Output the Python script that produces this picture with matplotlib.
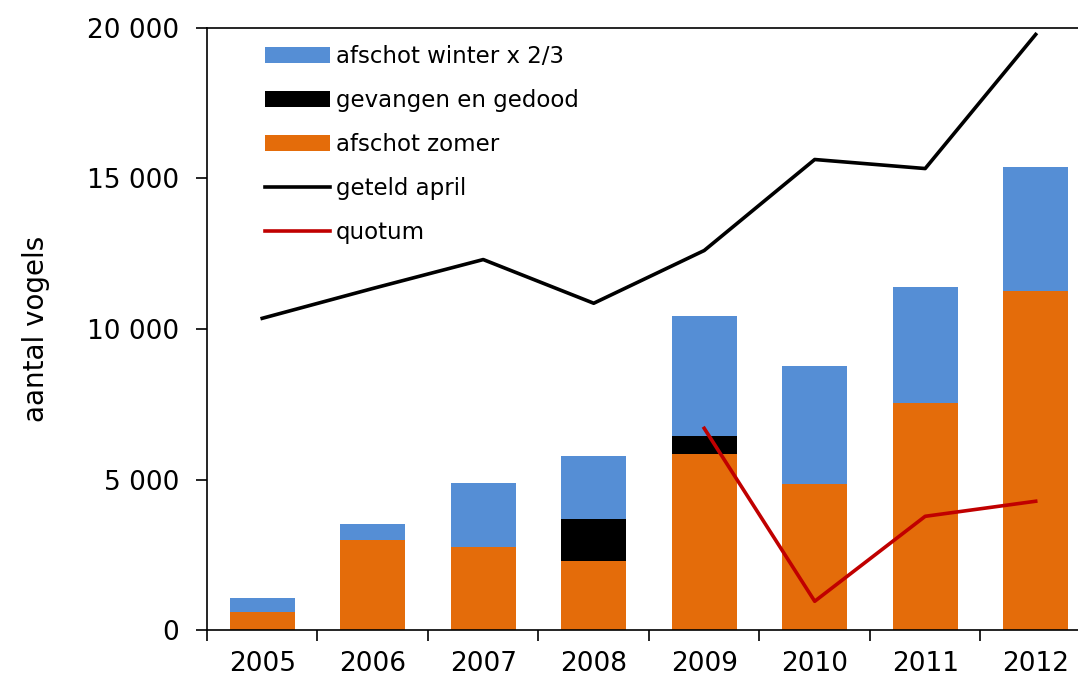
import numpy as np
import matplotlib.pyplot as plt

years = ['2005', '2006', '2007', '2008', '2009', '2010', '2011', '2012']
afschot_zomer = [600, 2990, 2750, 2290, 5840, 4840, 7530, 11240]
gevangen = [0, 0, 0, 1390, 590, 0, 0, 0]
afschot_winter = [460, 525, 2125, 2090, 3985, 3915, 3845, 4115]
geteld_april = [10350, 11340, 12300, 10850, 12600, 15620, 15320, 19770]
quotum_years = ['2009', '2010', '2011', '2012']
quotum = [6700, 960, 3780, 4280]

blue = '#558ED5'
orange = '#E46C0A'
red = '#C00000'

fig = plt.figure(figsize=(10.78, 6.88), dpi=100)
ax = fig.add_axes([0.192, 0.084, 0.82, 0.876])

x = np.arange(len(years))
zomer = np.array(afschot_zomer)
gev = np.array(gevangen)
wint = np.array(afschot_winter)
w = 0.59

b_w = ax.bar(x, wint, w, bottom=zomer + gev, color=blue, label='afschot winter x 2/3')
b_g = ax.bar(x, gev, w, bottom=zomer, color='black', label='gevangen en gedood')
b_z = ax.bar(x, zomer, w, color=orange, label='afschot zomer')
l_a, = ax.plot(x, geteld_april, color='black', lw=2.6, label='geteld april')
qx = [years.index(y) for y in quotum_years]
l_q, = ax.plot(qx, quotum, color=red, lw=2.6, label='quotum')

ax.set_xlim(-0.5, len(years) - 0.5)
ax.set_ylim(0, 20000)
ax.set_yticks([0, 5000, 10000, 15000, 20000])
ax.set_yticklabels(['0', '5 000', '10 000', '15 000', '20 000'])
ax.set_xticks(x)
ax.set_xticklabels(years)
ax.set_xticks(np.arange(len(years) + 1) - 0.5, minor=True)
ax.tick_params(axis='x', which='major', length=0, pad=15, labelsize=19)
ax.tick_params(axis='x', which='minor', length=8, width=1.2)
ax.tick_params(axis='y', length=8, width=1.2, pad=12, labelsize=19)
ax.set_ylabel('aantal vogels', fontsize=20)
ax.yaxis.set_label_coords(-0.178, 0.5)

ax.spines['right'].set_visible(False)
for s in ['left', 'bottom', 'top']:
    ax.spines[s].set_linewidth(1.2)

ax.legend([b_w, b_g, b_z, l_a, l_q],
          ['afschot winter x 2/3', 'gevangen en gedood', 'afschot zomer', 'geteld april', 'quotum'],
          loc='upper left', bbox_to_anchor=(0.042, 1.005), frameon=False,
          fontsize=16.5, handlelength=2.85, handleheight=0.7,
          handletextpad=0.25, labelspacing=0.92)

fig.savefig('out.png', dpi=100)
